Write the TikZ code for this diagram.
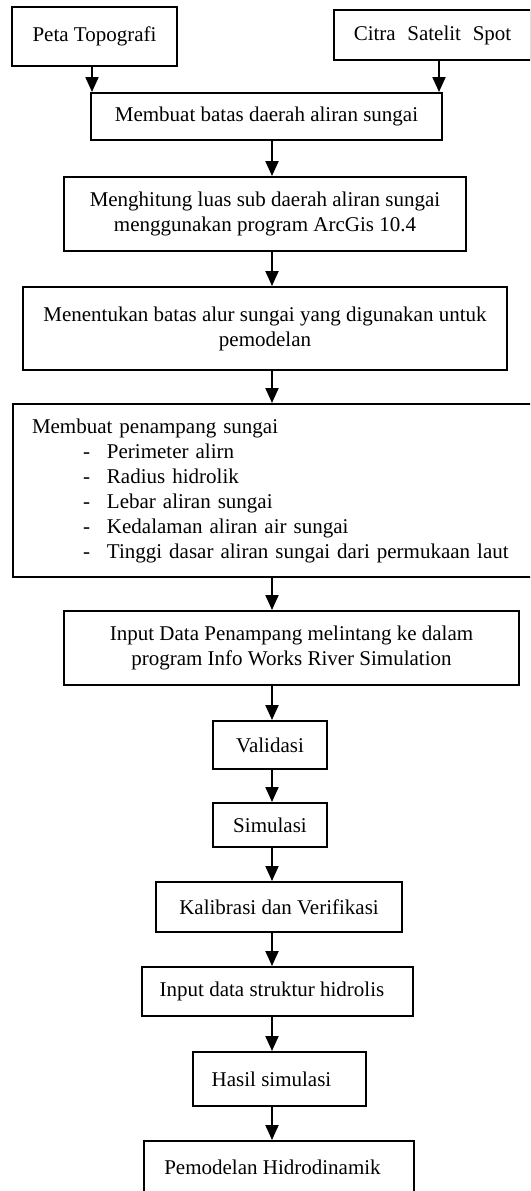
\documentclass[tikz,border=0pt]{standalone}
\usepackage{fontspec}
\setmainfont{Liberation Serif}
\usetikzlibrary{arrows.meta}
\newcommand{\butir}[1]{\makebox[45pt][l]{\hspace*{30.6pt}-}#1}

\begin{document}
\begin{tikzpicture}[x=0.6pt, y=-0.6pt,
    kotak/.style={draw, line width=1.2pt, inner sep=0pt, align=center, font=\fontsize{12.6}{15}\selectfont},
    panah/.style={-{Triangle[width=7.8pt, length=9pt]}, line width=1.2pt}]
    \useasboundingbox (0,0) rectangle (530,1191);
    \clip (0,0) rectangle (530,1191);
    % input data
    \node[kotak, minimum width=99pt, minimum height=35.4pt] (peta) at (94.5,36.5) {Peta Topografi};
    \node[kotak, minimum width=118.2pt, minimum height=30pt] (citra) at (432.5,35) {Citra\hspace{7pt}Satelit\hspace{7pt}Spot};
    % flow steps
    \node[kotak, minimum width=210.6pt, minimum height=28.2pt] (batas) at (266.5,116.5) {Membuat batas daerah aliran sungai};
    \node[kotak, minimum width=241.2pt, minimum height=44.4pt] (luas) at (265,214) {Menghitung luas sub daerah aliran sungai\\ menggunakan program ArcGis 10.4};
    \node[kotak, minimum width=290.4pt, minimum height=49.8pt] (alur) at (265,328.5) {Menentukan batas alur sungai yang digunakan untuk\\ pemodelan};
    \node[kotak, minimum height=103.8pt, inner xsep=11.4pt, text width=288.6pt, align=left] (penampang) at (272.5,490.5) {Membuat penampang sungai\\
        \butir{Perimeter alirn}\\
        \butir{Radius hidrolik}\\
        \butir{Lebar aliran sungai}\\
        \butir{Kedalaman aliran air sungai}\\
        \butir{Tinggi dasar aliran sungai dari permukaan laut}};
    \node[kotak, minimum width=273pt, minimum height=44.4pt] (input) at (291.5,648) {Input Data Penampang melintang ke dalam\\ program Info Works River Simulation};
    \node[kotak, minimum width=68.4pt, minimum height=28.8pt] (validasi) at (270,745) {Validasi};
    \node[kotak, minimum width=68.4pt, minimum height=26.4pt] (simulasi) at (270,825) {Simulasi};
    \node[kotak, minimum width=147.6pt, minimum height=30pt] (kalibrasi) at (279,907) {Kalibrasi dan Verifikasi};
    \node[kotak, minimum width=162.6pt, minimum height=29.4pt] (struktur) at (277.5,991.5) {Input data struktur hidrolis\kern6.6pt};
    \node[kotak, minimum width=103.8pt, minimum height=32.4pt] (hasil) at (279.5,1079) {Hasil simulasi\kern9.6pt};
    \node[kotak, minimum width=162pt, minimum height=31.2pt] (model) at (279,1167) {Pemodelan Hidrodinamik\kern7.8pt};
    % arrows
    \coordinate (kiri) at (92,0);
    \coordinate (kanan) at (439,0);
    \coordinate (poros) at (272,0);
    \draw[panah] (peta.south -| kiri) -- (batas.north -| kiri);
    \draw[panah] (citra.south -| kanan) -- (batas.north -| kanan);
    \foreach \a/\b in {batas/luas, luas/alur, alur/penampang, penampang/input, input/validasi,
        validasi/simulasi, simulasi/kalibrasi, kalibrasi/struktur, struktur/hasil, hasil/model}
        \draw[panah] (\a.south -| poros) -- (\b.north -| poros);
\end{tikzpicture}
\end{document}
